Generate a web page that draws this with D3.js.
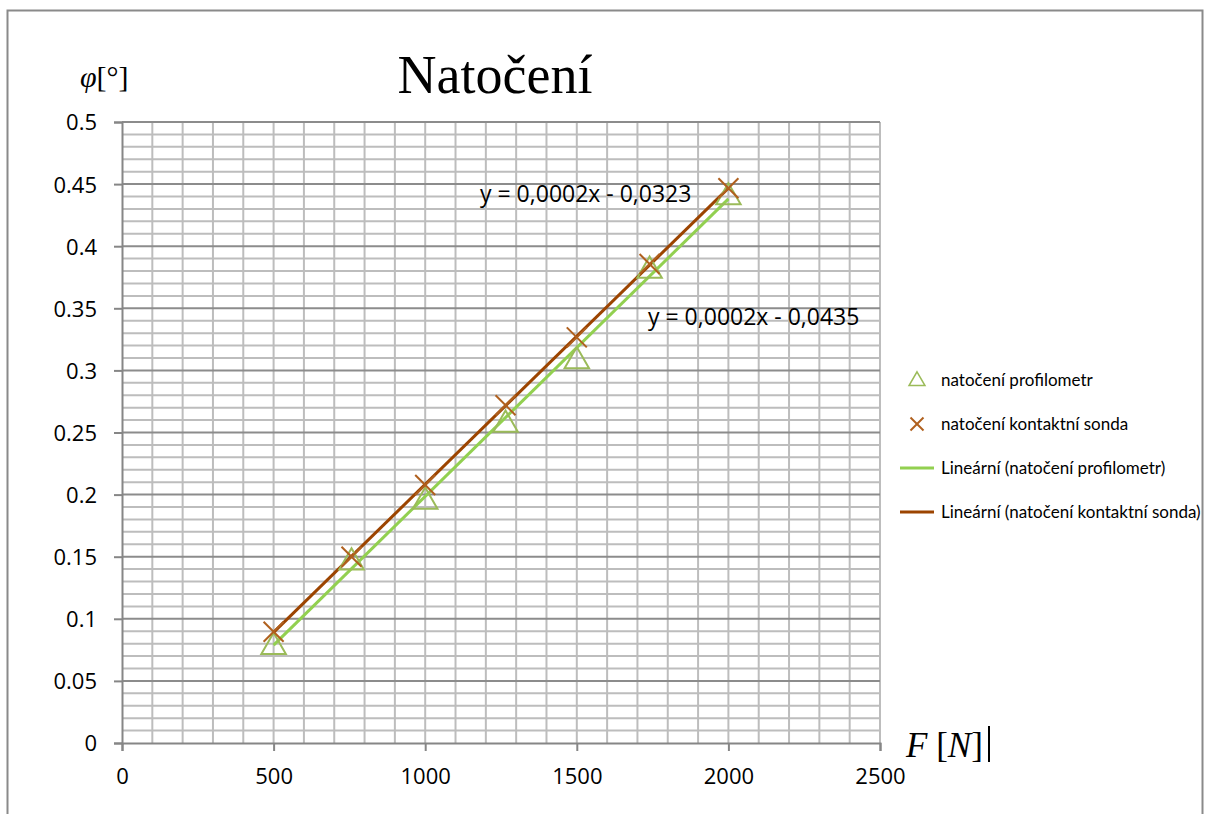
<!DOCTYPE html>
<html>
<head>
<meta charset="utf-8">
<script src="https://cdn.jsdelivr.net/npm/d3@7"></script>
<style>
  body { margin: 0; background: #fff; }
  svg { display: block; }
  .tick text { font-family: "Open Sans", sans-serif; font-size: 22px; fill: #000; }
  .legend text { font-family: Lato, sans-serif; font-size: 17px; fill: #000; }
</style>
</head>
<body>
<div id="viz"></div>
<script>
// data
var force = [500, 757, 1000, 1265, 1500, 1740, 2000];
var profilometr = [0.079, 0.147, 0.196, 0.258, 0.309, 0.382, 0.441];
var sonda = [0.0896, 0.150, 0.2077, 0.272, 0.3266, 0.3857, 0.4466];
var xTicks = [0, 500, 1000, 1500, 2000, 2500];
var yTicks = [0, 0.05, 0.1, 0.15, 0.2, 0.25, 0.3, 0.35, 0.4, 0.45, 0.5];
var seriesNames = ["natočení profilometr", "natočení kontaktní sonda",
  "Lineární (natočení profilometr)", "Lineární (natočení kontaktní sonda)"];
var eqLabels = ["y = 0,0002x - 0,0435", "y = 0,0002x - 0,0323"];

var width = 1205, height = 814;
var margin = { top: 122, left: 122, right: 325, bottom: 71 };

var svg = d3.select('#viz').append('svg')
  .attr('width', width)
  .attr('height', height);

// chart frame
svg.append('rect')
  .attr('x', 7.5).attr('y', 10.5)
  .attr('width', 1195).attr('height', 900)
  .attr('fill', 'none').attr('stroke', '#8a8a8a').attr('stroke-width', 2);

var x = d3.scaleLinear().domain([0, 2500]).range([margin.left, width - margin.right]);
var y = d3.scaleLinear().domain([0, 0.5]).range([height - margin.bottom, margin.top]);

// grid: minor every 100 N / 0.01, major horizontal every 0.05
var grid = svg.append('g').attr('class', 'grid');
grid.selectAll('line.v')
  .data(d3.range(100, 2501, 100))
  .enter().append('line')
  .attr('x1', function (d) { return x(d); })
  .attr('x2', function (d) { return x(d); })
  .attr('y1', y(0)).attr('y2', y(0.5))
  .attr('stroke', '#bdbdbd').attr('stroke-width', 2);
grid.selectAll('line.h')
  .data(d3.range(1, 51))
  .enter().append('line')
  .attr('x1', x(0)).attr('x2', x(2500))
  .attr('y1', function (d) { return y(d / 100); })
  .attr('y2', function (d) { return y(d / 100); })
  .attr('stroke', function (d) { return d % 5 == 0 ? '#8c8c8c' : '#bdbdbd'; })
  .attr('stroke-width', 2);

// axes
var xAxis = svg.append('g')
  .attr('transform', 'translate(0,' + y(0) + ')')
  .call(d3.axisBottom(x).tickValues(xTicks).tickSize(8).tickPadding(17)
    .tickFormat(function (d) { return d; }));
var yAxis = svg.append('g')
  .attr('transform', 'translate(' + x(0) + ',0)')
  .call(d3.axisLeft(y).tickValues(yTicks).tickSize(8).tickPadding(17)
    .tickFormat(function (d) { return String(+d.toFixed(2)); }));
[xAxis, yAxis].forEach(function (a) {
  a.select('.domain').attr('stroke', '#868686').attr('stroke-width', 2);
  a.selectAll('.tick line').attr('stroke', '#868686').attr('stroke-width', 2);
});
yAxis.selectAll('.tick text').attr('dy', '0.36em');

// least squares trend lines
function fit(xs, ys) {
  var mx = d3.mean(xs), my = d3.mean(ys);
  var sxy = d3.sum(xs, function (v, i) { return (v - mx) * (ys[i] - my); });
  var sxx = d3.sum(xs, function (v) { return (v - mx) * (v - mx); });
  var k = sxy / sxx;
  return { k: k, q: my - k * mx };
}
var fits = [fit(force, profilometr), fit(force, sonda)];
var lineColors = ['#92d050', '#9c4400'];
var xr = d3.extent(force);
fits.forEach(function (f, i) {
  svg.append('line')
    .attr('x1', x(xr[0])).attr('y1', y(f.k * xr[0] + f.q))
    .attr('x2', x(xr[1])).attr('y2', y(f.k * xr[1] + f.q))
    .attr('stroke', lineColors[i]).attr('stroke-width', 3);
});

// markers
var triColor = '#9bbb59', crossColor = '#b0601e';
var tri = d3.symbol().type(d3.symbolTriangle).size(260);
svg.selectAll('path.tri')
  .data(force).enter().append('path')
  .attr('d', tri)
  .attr('transform', function (d, i) { return 'translate(' + x(d) + ',' + (y(profilometr[i]) + 2) + ')'; })
  .attr('fill', 'none').attr('stroke', triColor).attr('stroke-width', 2);

function cross(g, s) {
  g.append('line').attr('x1', -s).attr('y1', -s).attr('x2', s).attr('y2', s);
  g.append('line').attr('x1', -s).attr('y1', s).attr('x2', s).attr('y2', -s);
  g.attr('stroke', crossColor).attr('stroke-width', 2);
}
svg.selectAll('g.cross')
  .data(force).enter().append('g')
  .attr('transform', function (d, i) { return 'translate(' + x(d) + ',' + y(sonda[i]) + ')'; })
  .each(function () { cross(d3.select(this), 10); });

// equation labels
svg.append('text').attr('x', 480).attr('y', 202)
  .style('font-family', '"Open Sans", sans-serif').style('font-size', '23px')
  .text(eqLabels[1]);
svg.append('text').attr('x', 648).attr('y', 325)
  .style('font-family', '"Open Sans", sans-serif').style('font-size', '23px')
  .text(eqLabels[0]);

// title and axis titles
svg.append('text').attr('x', 495).attr('y', 93).attr('text-anchor', 'middle')
  .style('font-family', '"Liberation Serif", serif').style('font-size', '54px')
  .text('Natočení');
var phi = svg.append('text').attr('x', 80).attr('y', 87)
  .style('font-family', '"Liberation Serif", serif').style('font-size', '30px');
phi.append('tspan').style('font-style', 'italic').text('φ');
phi.append('tspan').text('[°]');
var fn = svg.append('text').attr('x', 906).attr('y', 757)
  .style('font-family', '"Liberation Serif", serif').style('font-size', '35px');
fn.append('tspan').style('font-style', 'italic').text('F');
fn.append('tspan').text(' [');
fn.append('tspan').style('font-style', 'italic').text('N');
fn.append('tspan').text(']');
svg.append('line').attr('x1', 989).attr('x2', 989).attr('y1', 726).attr('y2', 762)
  .attr('stroke', '#000').attr('stroke-width', 2);

// legend
var legend = svg.append('g').attr('class', 'legend');
var rowsY = [380, 424, 468, 512];
legend.selectAll('text')
  .data(seriesNames).enter().append('text')
  .attr('x', 941)
  .attr('y', function (d, i) { return rowsY[i]; })
  .attr('dy', '0.35em')
  .text(function (d) { return d; });
legend.append('path')
  .attr('d', d3.symbol().type(d3.symbolTriangle).size(110))
  .attr('transform', 'translate(917,' + (rowsY[0] + 1) + ')')
  .attr('fill', 'none').attr('stroke', triColor).attr('stroke-width', 1.5);
cross(legend.append('g').attr('transform', 'translate(917,' + rowsY[1] + ')'), 6.5);
legend.selectAll('line.l')
  .data(lineColors).enter().append('line')
  .attr('x1', 900).attr('x2', 934)
  .attr('y1', function (d, i) { return rowsY[i + 2]; })
  .attr('y2', function (d, i) { return rowsY[i + 2]; })
  .attr('stroke', function (d) { return d; }).attr('stroke-width', 3);
</script>
</body>
</html>
